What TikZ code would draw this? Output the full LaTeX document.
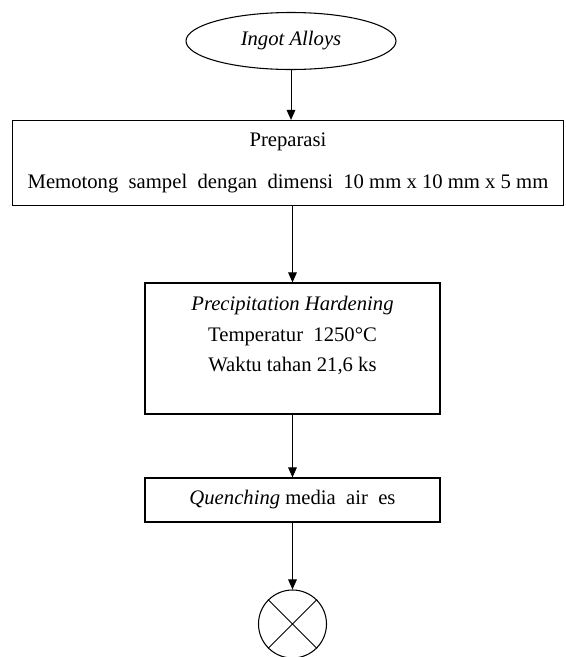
\documentclass[tikz,border=0pt]{standalone}
\usepackage{fontspec}
\setmainfont{Liberation Serif}
\usetikzlibrary{shapes.geometric,arrows.meta}

\begin{document}
\begin{tikzpicture}[x=0.75pt, y=-0.75pt, -{Triangle[length=7.5pt,width=6.5pt]}, line width=0.7pt,
  font=\fontsize{15.5}{22}\selectfont,
  oval/.style={ellipse, draw, line width=0.8pt, minimum width=157.5pt, minimum height=42.75pt, inner sep=0pt},
  box/.style={rectangle, draw, line width=0.9pt, align=center, inner sep=0pt}]

\useasboundingbox (0,0) rectangle (565,657);

% Bentuk utama
\node[oval] (ingot) at (291,41) {\textit{Ingot Alloys}};
\node[box, minimum width=413.25pt, minimum height=63.75pt] (prep) at (288,163)
  {Preparasi\\[9pt]Memotong\ \ sampel\ \ dengan\ \ dimensi\ \ 10 mm x 10 mm x 5 mm};
\node[box, minimum width=221.25pt, minimum height=98.25pt] (hard) at (292.5,348.5)
  {\textit{Precipitation Hardening}\\[1pt]Temperatur\ \ 1250°C\\[1pt]Waktu tahan 21,6 ks\\\mbox{}};
\node[box, minimum width=221.25pt, minimum height=33pt] (quench) at (292.5,500)
  {\textit{Quenching} media\ \ air\ \ es};
\node[circle, draw, line width=0.8pt, minimum size=51pt, inner sep=0pt] (end) at (292.5,624) {};

% Tanda silang
\draw[-] (end.north west) -- (end.south east);
\draw[-] (end.north east) -- (end.south west);

% Panah
\draw (ingot.south) -- (ingot.south |- prep.north);
\draw (hard.north |- prep.south) -- (hard.north);
\draw (hard) -- (quench);
\draw (quench) -- (end);

\end{tikzpicture}
\end{document}
